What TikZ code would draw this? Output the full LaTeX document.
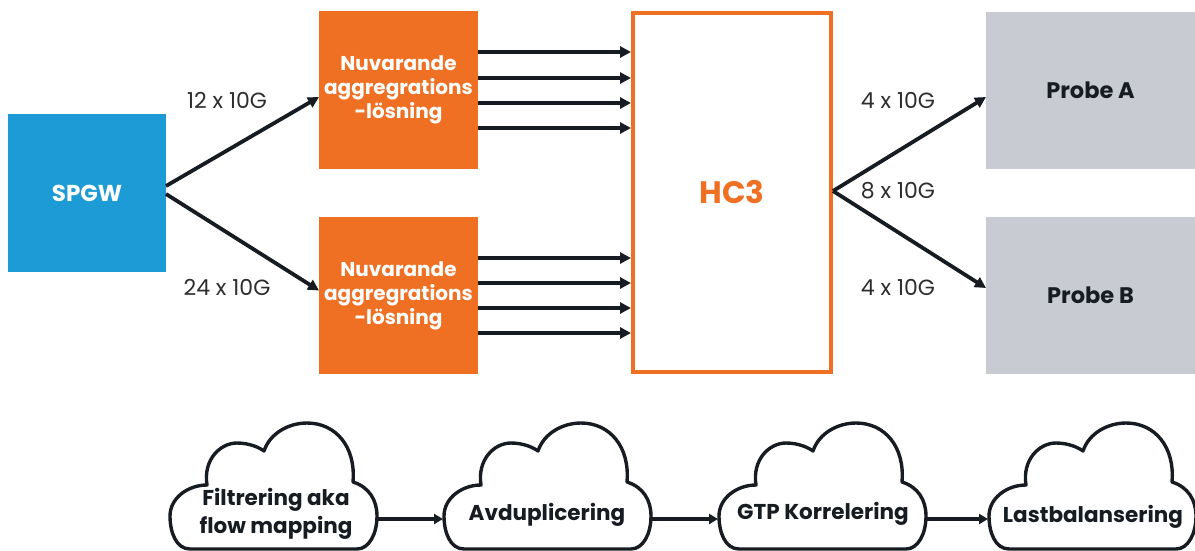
\documentclass[tikz,border=0pt]{standalone}
\usepackage{fontspec}
\setmainfont{Poppins}
\usetikzlibrary{arrows.meta}
\definecolor{spblue}{RGB}{29,155,214}
\definecolor{orng}{RGB}{240,112,35}
\definecolor{prgray}{RGB}{200,203,209}
\definecolor{ink}{RGB}{22,28,33}
\definecolor{lbl}{RGB}{45,45,45}
\tikzset{
  box/.style={rectangle, inner sep=0pt, outer sep=0pt, align=center, font=\fontsize{20}{24}\selectfont\bfseries},
  conn/.style={draw=ink, line width=3.8pt, -{Triangle[length=11pt,width=11pt]}},
  rate/.style={text=lbl, font=\fontsize{22}{26}\selectfont, inner sep=0pt},
  cloudline/.style={draw=ink, line width=3.4pt, fill=white, line join=round},
  cloudtext/.style={text=ink, font=\fontsize{21.5}{28}\selectfont\bfseries, align=center, inner sep=0pt}
}
\newcommand\mycloud[1]{%
  \path[cloudline, shift={(#1,0)}]
    (20,549) .. controls (6,549) and (0,532) .. (0,516)
    .. controls (0,498) and (18,485) .. (37,485)
    .. controls (33,460) and (50,443) .. (67,443)
    .. controls (80,443) and (90,448) .. (94,451)
    .. controls (100,433) and (119,423) .. (137,423)
    .. controls (166,423) and (186,447) .. (183,482)
    .. controls (199,487) and (207,500) .. (207,516)
    .. controls (207,534) and (199,549) .. (187,549) -- cycle;}
\begin{document}
\begin{tikzpicture}[x=1pt,y=-1pt]
\useasboundingbox (0,0) rectangle (1195,550);
% boxes
\node[box, fill=spblue, text=white, minimum width=158, minimum height=158, font=\fontsize{23}{27}\selectfont\bfseries] (spgw) at (87,193) {SPGW};
\node[box, fill=orng, text=white, minimum width=159, minimum height=158] (agg1) at (398.5,90) {Nuvarande\\aggregrations\\-lösning};
\node[box, fill=orng, text=white, minimum width=159, minimum height=157] (agg2) at (398.5,295.5) {Nuvarande\\aggregrations\\-lösning};
\node[box, draw=orng, line width=4pt, outer sep=2pt, fill=white, text=orng, minimum width=198, minimum height=359, font=\fontsize{31}{36}\selectfont\bfseries] (hc3) at (732,192) {HC3};
\node[box, fill=prgray, text=ink, minimum width=209, minimum height=157, font=\fontsize{22.5}{27}\selectfont\bfseries] (pa) at (1090.5,90.5) {Probe A};
\node[box, fill=prgray, text=ink, minimum width=209, minimum height=157, font=\fontsize{22.5}{27}\selectfont\bfseries] (pb) at (1090.5,295.5) {Probe B};
% SPGW arrows
\draw[conn] ([yshift=7pt]spgw.east) -- ([yshift=-7pt]agg1.west);
\draw[conn] ([yshift=-1pt]spgw.east) -- ([yshift=5pt]agg2.west);
% parallel arrows
\foreach \d in {38,12,-13,-38}{
  \draw[conn] ([yshift=\d pt]agg1.east) -- ([yshift=\d pt]agg1.east -| hc3.west);
}
\foreach \d in {37.5,12.5,-12.5,-37.5}{
  \draw[conn] ([yshift=\d pt]agg2.east) -- ([yshift=\d pt]agg2.east -| hc3.west);
}
% HC3 to probes
\draw[conn] ([yshift=1pt]hc3.east) -- ([yshift=-6.5pt]pa.west);
\draw[conn] ([yshift=1pt]hc3.east) -- ([yshift=7.5pt]pb.west);
% rate labels
\node[rate] (r1) at (227,100) {12 x 10G};
\node[rate] (r2) at (227,287) {24 x 10G};
\node[rate] (r3) at (898,100) {4 x 10G};
\node[rate] (r4) at (898,191) {8 x 10G};
\node[rate] (r5) at (898,287) {4 x 10G};
% clouds
\mycloud{170}
\mycloud{444}
\mycloud{719}
\mycloud{989}
\node[cloudtext] (c1) at (276,514) {Filtrering aka\\flow mapping};
\node[cloudtext] (c2) at (547,515) {Avduplicering};
\node[cloudtext] (c3) at (823,514) {GTP Korrelering};
\node[cloudtext] (c4) at (1093,517) {Lastbalansering};
\coordinate (c1r) at (378,519);
\coordinate (c2l) at (443,519);
\coordinate (c2r) at (652,519);
\coordinate (c3l) at (718,519);
\coordinate (c3r) at (927,519);
\coordinate (c4l) at (988,519);
\draw[conn, line width=3.4pt, -{Triangle[length=9pt,width=10pt]}] (c1r) -- (c2l);
\draw[conn, line width=3.4pt, -{Triangle[length=9pt,width=10pt]}] (c2r) -- (c3l);
\draw[conn, line width=3.4pt, -{Triangle[length=9pt,width=10pt]}] (c3r) -- (c4l);
\end{tikzpicture}
\end{document}
